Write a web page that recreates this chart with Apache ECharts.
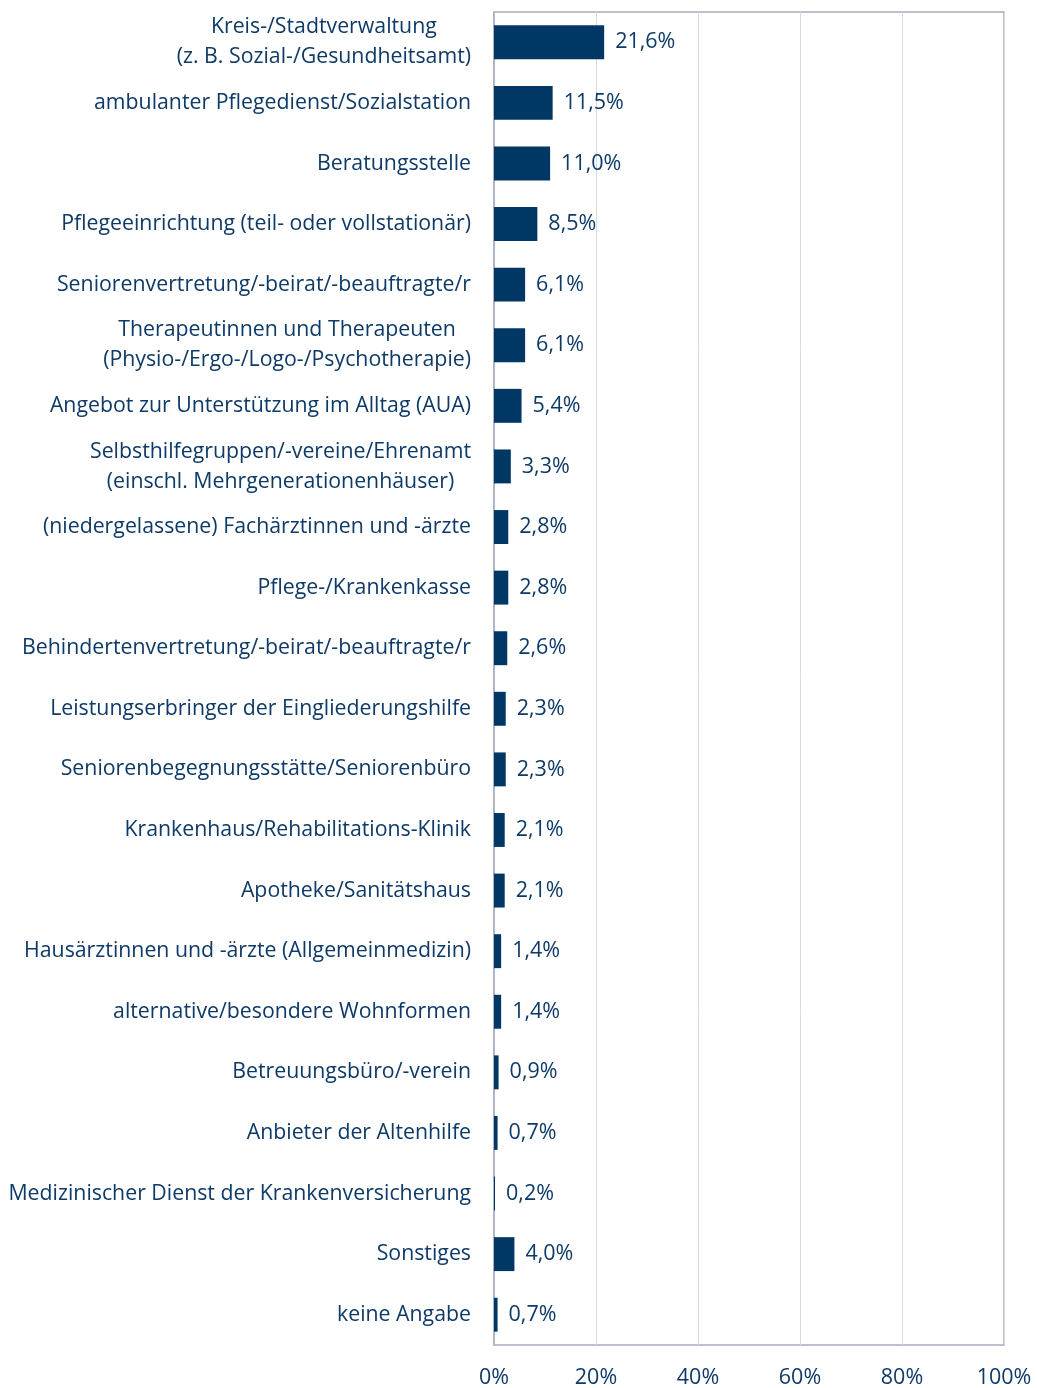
<!DOCTYPE html>
<html>
<head>
<meta charset="utf-8">
<script src="https://cdn.jsdelivr.net/npm/echarts@6/dist/echarts.min.js"></script>
<style>
	html, body { margin: 0; padding: 0; background: #fff; }
	#main { width: 1037px; height: 1388px; }
</style>
</head>
<body>
<div id="main"></div>
<script>
var categories = [
	'Kreis-/Stadtverwaltung\n(z. B. Sozial-/Gesundheitsamt)',
	'ambulanter Pflegedienst/Sozialstation',
	'Beratungsstelle',
	'Pflegeeinrichtung (teil- oder vollstationär)',
	'Seniorenvertretung/-beirat/-beauftragte/r',
	'Therapeutinnen und Therapeuten\n(Physio-/Ergo-/Logo-/Psychotherapie)',
	'Angebot zur Unterstützung im Alltag (AUA)',
	'Selbsthilfegruppen/-vereine/Ehrenamt\n(einschl. Mehrgenerationenhäuser)',
	'(niedergelassene) Fachärztinnen und -ärzte',
	'Pflege-/Krankenkasse',
	'Behindertenvertretung/-beirat/-beauftragte/r',
	'Leistungserbringer der Eingliederungshilfe',
	'Seniorenbegegnungsstätte/Seniorenbüro',
	'Krankenhaus/Rehabilitations-Klinik',
	'Apotheke/Sanitätshaus',
	'Hausärztinnen und -ärzte (Allgemeinmedizin)',
	'alternative/besondere Wohnformen',
	'Betreuungsbüro/-verein',
	'Anbieter der Altenhilfe',
	'Medizinischer Dienst der Krankenversicherung',
	'Sonstiges',
	'keine Angabe'
];
var values = [21.6, 11.5, 11.0, 8.5, 6.1, 6.1, 5.4, 3.3, 2.8, 2.8, 2.6, 2.3, 2.3, 2.1, 2.1, 1.4, 1.4, 0.9, 0.7, 0.2, 4.0, 0.7];
var xTicks = [0, 20, 40, 60, 80, 100];

var textColor = '#0E3A68';
var barColor = '#003764';
var font = 'Open Sans';

var myChart = echarts.init(document.getElementById('main'));
var option = {
	animation: false,
	grid: {
		left: 494,
		right: 33,
		top: 12,
		bottom: 43,
		outerBoundsMode: 'none',
		show: true,
		borderColor: '#A7ADC0',
		borderWidth: 1.5
	},
	xAxis: {
		type: 'value',
		min: xTicks[0],
		max: xTicks[xTicks.length - 1],
		interval: 20,
		axisLine: { show: false },
		axisTick: { show: false },
		splitLine: { lineStyle: { color: '#D9D9D9', width: 1 } },
		axisLabel: {
			color: textColor,
			fontFamily: font,
			fontSize: 21.5,
			margin: 22,
			formatter: function (v) { return v + '%'; }
		}
	},
	yAxis: {
		type: 'category',
		inverse: true,
		data: categories,
		axisLine: { show: true, lineStyle: { color: '#A7ADC0', width: 1.5 } },
		axisTick: { show: false },
		axisLabel: {
			color: textColor,
			fontFamily: font,
			fontSize: 21.3,
			lineHeight: 30,
			margin: 23,
			align: 'right',
			// zweizeilige Beschriftungen zentriert untereinander
			formatter: function (v) {
				return v.split('\n').map(function (s) { return '{c|' + s + '}'; }).join('\n');
			},
			rich: {
				c: {
					align: 'center',
					color: textColor,
					fontFamily: font,
					fontSize: 21.3,
					lineHeight: 30
				}
			}
		}
	},
	series: [{
		type: 'bar',
		data: values,
		barCategoryGap: '44%',
		itemStyle: { color: barColor },
		label: {
			show: true,
			position: 'right',
			distance: 11,
			color: textColor,
			fontFamily: font,
			fontSize: 21.5,
			formatter: function (p) { return p.value.toFixed(1).replace('.', ',') + '%'; }
		}
	}]
};
myChart.setOption(option);
</script>
</body>
</html>
